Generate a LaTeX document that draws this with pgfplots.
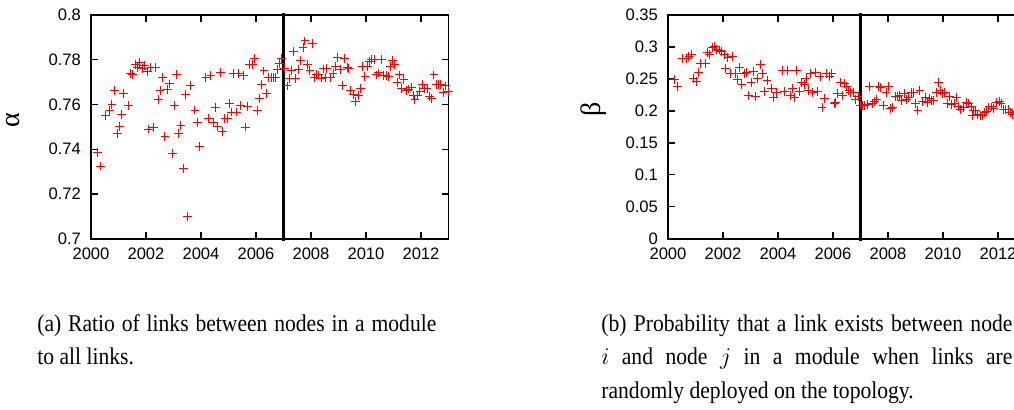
\documentclass[border=0pt]{standalone}
\usepackage{pgfplots}
\pgfplotsset{compat=1.18}
\usepackage{fontspec}
\setmainfont{Liberation Serif}
\newfontfamily\ticksans{Liberation Sans}
\newfontfamily\capfont[FakeStretch=0.9]{Liberation Serif}
\begin{document}
\begin{tikzpicture}
\pgfplotsset{common/.style={
  scale only axis, width=178.75pt, height=111.85pt,
  xmin=2000, xmax=2013, xtick={2000,2002,...,2012}, minor x tick num=7,
  tick align=inside, axis line style={line width=0.8pt},
  every tick/.style={black, line width=0.7pt},
  major tick length=3.3pt, minor tick length=1.6pt,
  ticklabel style={font=\ticksans\fontsize{8.3}{10}\selectfont},
  xticklabel style={yshift=-1.2pt},
  yticklabel style={xshift=-1.5pt},
  /pgf/number format/assume math mode=true,
  /pgf/number format/1000 sep={},
  y tick label style={/pgf/number format/fixed},
  clip=false}}
\begin{axis}[common, at={(45.5pt,85.15pt)}, anchor=south west,
  ymin=0.7, ymax=0.8, ytick={0.7,0.72,0.74,0.76,0.78,0.8}]
\addplot[only marks, mark=+, red, mark size=2.2pt, line width=0.5pt] table {
2000.25 0.7387
2000.35 0.7325
2000.52 0.755
2000.69 0.7572
2000.76 0.760
2000.85 0.7664
2000.95 0.747
2001.03 0.750
2001.10 0.7554
2001.17 0.7648
2001.36 0.7594
2001.44 0.774
2001.51 0.7735
2001.60 0.7777
2001.68 0.7765
2001.77 0.7787
2001.87 0.7762
2001.95 0.7774
2002.04 0.7747
2002.09 0.749
2002.18 0.7767
2002.28 0.7497
2002.35 0.7765
2002.44 0.7624
2002.51 0.7661
2002.60 0.772
2002.69 0.7457
2002.77 0.7667
2002.85 0.7692
2002.95 0.7381
2003.03 0.7597
2003.10 0.7735
2003.18 0.7472
2003.27 0.7506
2003.36 0.7314
2003.44 0.7645
2003.52 0.7099
2003.61 0.7686
2003.78 0.7575
2003.87 0.7521
2003.95 0.7413
2004.18 0.7722
2004.28 0.7536
2004.36 0.7729
2004.45 0.7521
2004.52 0.7588
2004.61 0.7502
2004.70 0.7743
2004.79 0.748
2004.87 0.7536
2004.95 0.7539
2005.03 0.7603
2005.12 0.7566
2005.19 0.774
2005.28 0.7566
2005.36 0.774
2005.45 0.7596
2005.54 0.7728
2005.61 0.7499
2005.70 0.759
2005.77 0.7777
2005.86 0.778
2005.94 0.7807
2006.04 0.7572
2006.12 0.7628
2006.19 0.7691
2006.29 0.775
2006.38 0.7648
2006.45 0.772
2006.55 0.7722
2006.63 0.7722
2006.72 0.772
2006.77 0.7755
2006.85 0.7782
2006.93 0.7807
2007.03 0.7762
2007.13 0.7683
2007.20 0.7715
2007.28 0.7753
2007.37 0.7836
2007.45 0.7715
2007.54 0.7757
2007.62 0.7796
2007.71 0.7854
2007.78 0.7884
2007.87 0.7777
2007.96 0.7753
2008.05 0.7874
2008.12 0.7722
2008.20 0.7735
2008.29 0.7732
2008.37 0.7718
2008.46 0.7759
2008.51 0.7722
2008.57 0.7762
2008.70 0.7722
2008.80 0.774
2008.90 0.777
2008.97 0.7811
2009.07 0.7757
2009.14 0.7686
2009.22 0.7804
2009.32 0.7764
2009.38 0.7762
2009.45 0.7664
2009.54 0.7643
2009.62 0.7612
2009.72 0.764
2009.79 0.7673
2009.88 0.7771
2009.96 0.7725
2010.05 0.7771
2010.12 0.7792
2010.21 0.7801
2010.30 0.7802
2010.37 0.7732
2010.45 0.7741
2010.57 0.7801
2010.64 0.7729
2010.73 0.7729
2010.81 0.7725
2010.88 0.777
2010.96 0.7798
2011.04 0.778
2011.13 0.7698
2011.21 0.7732
2011.29 0.7673
2011.38 0.771
2011.47 0.7661
2011.55 0.7669
2011.64 0.7678
2011.71 0.7639
2011.78 0.7621
2011.88 0.764
2011.96 0.7658
2012.05 0.7691
2012.13 0.767
2012.22 0.7673
2012.30 0.7636
2012.39 0.7628
2012.47 0.7732
2012.55 0.7688
2012.63 0.7691
2012.71 0.7688
2012.80 0.7655
2012.90 0.7683
2012.99 0.7658
};
\draw[line width=1.4pt] ([yshift=-1.2pt]axis cs:2007,0.7) -- ([yshift=1.2pt]axis cs:2007,0.8);
\end{axis}
\begin{axis}[common, at={(334pt,85.15pt)}, anchor=south west,
  ymin=0, ymax=0.35, ytick={0,0.05,0.1,0.15,0.2,0.25,0.3,0.35}]
\addplot[only marks, mark=+, red, mark size=2.2pt, line width=0.5pt] table {
2000.25 0.2491
2000.35 0.2386
2000.52 0.2816
2000.69 0.2816
2000.76 0.2857
2000.85 0.2883
2000.93 0.2502
2001.03 0.2464
2001.10 0.2605
2001.17 0.2742
2001.36 0.2737
2001.44 0.2919
2001.52 0.2888
2001.60 0.2988
2001.68 0.3004
2001.77 0.2962
2001.87 0.2951
2001.95 0.2935
2002.04 0.2883
2002.10 0.2659
2002.18 0.2831
2002.28 0.2585
2002.35 0.2857
2002.45 0.2585
2002.52 0.2491
2002.59 0.2674
2002.69 0.2412
2002.77 0.2585
2002.85 0.2596
2002.93 0.2240
2003.02 0.2439
2003.10 0.2621
2003.17 0.2219
2003.26 0.2502
2003.35 0.2726
2003.43 0.2580
2003.50 0.2307
2003.60 0.2480
2003.77 0.2345
2003.85 0.2204
2003.94 0.2282
2004.16 0.2637
2004.25 0.2307
2004.34 0.2627
2004.44 0.2240
2004.52 0.2350
2004.61 0.2204
2004.68 0.2637
2004.77 0.2307
2004.85 0.2439
2004.95 0.2412
2005.02 0.2502
2005.12 0.2323
2005.19 0.2580
2005.27 0.2282
2005.36 0.2605
2005.44 0.2298
2005.53 0.2543
2005.60 0.2056
2005.68 0.2188
2005.77 0.2580
2005.87 0.2543
2005.94 0.2585
2006.04 0.2114
2006.10 0.2134
2006.17 0.2271
2006.26 0.2449
2006.34 0.2240
2006.43 0.2428
2006.50 0.2376
2006.58 0.2323
2006.65 0.2282
2006.74 0.2292
2006.83 0.2177
2006.91 0.2229
2007.00 0.2083
2007.08 0.2083
2007.16 0.2083
2007.25 0.2098
2007.32 0.2386
2007.42 0.2114
2007.50 0.2150
2007.59 0.2177
2007.67 0.2376
2007.73 0.2360
2007.83 0.2083
2007.93 0.2282
2008.01 0.2376
2008.10 0.2031
2008.17 0.2047
2008.27 0.2229
2008.35 0.2229
2008.40 0.2240
2008.50 0.2166
2008.59 0.2271
2008.68 0.2177
2008.76 0.2204
2008.86 0.2292
2008.93 0.2282
2009.00 0.2114
2009.09 0.2009
2009.16 0.2323
2009.26 0.2150
2009.35 0.2204
2009.43 0.2134
2009.52 0.2188
2009.59 0.2166
2009.67 0.2166
2009.75 0.2292
2009.83 0.2449
2009.92 0.2323
2009.99 0.2271
2010.07 0.2282
2010.16 0.2114
2010.23 0.2219
2010.32 0.2098
2010.40 0.2114
2010.50 0.2204
2010.58 0.2072
2010.65 0.2020
2010.74 0.2047
2010.84 0.2134
2010.92 0.2114
2011.02 0.2062
2011.07 0.1926
2011.10 0.2009
2011.19 0.2009
2011.26 0.1941
2011.35 0.1926
2011.43 0.1926
2011.50 0.1978
2011.59 0.1993
2011.67 0.2062
2011.77 0.2062
2011.85 0.2031
2011.95 0.2134
2012.04 0.2150
2012.11 0.2114
2012.20 0.2020
2012.29 0.2020
2012.38 0.2020
2012.45 0.1978
2012.52 0.1941
2012.60 0.1960
2012.68 0.1990
};
\draw[line width=1.4pt] ([yshift=-1.2pt]axis cs:2007,0) -- ([yshift=1.2pt]axis cs:2007,0.35);
\end{axis}
\node[rotate=90, inner sep=0, font=\fontsize{14}{14}\selectfont] at (6.5pt,144.5pt) {α};
\node[rotate=90, inner sep=0, font=\fontsize{14}{14}\selectfont] at (297pt,150pt) {β};
\begin{scope}[every node/.style={anchor=base west, inner sep=0, font=\capfont\fontsize{12}{13}\selectfont}]
\node at (18.5pt,39pt) {\makebox[199.5pt][s]{(a) Ratio of links between nodes in a module}};
\node at (18.5pt,22.5pt) {to all links.};
\node at (300.5pt,39pt) {\makebox[205.5pt][s]{(b) Probability that a link exists between node}};
\node at (300.5pt,22.5pt) {\makebox[205.5pt][s]{$i$ and node $j$ in a module when links are}};
\node at (300.5pt,5.5pt) {randomly deployed on the topology.};
\end{scope}
\pgfresetboundingbox
\useasboundingbox (0,0) rectangle (507pt,204.5pt);
\end{tikzpicture}
\end{document}
